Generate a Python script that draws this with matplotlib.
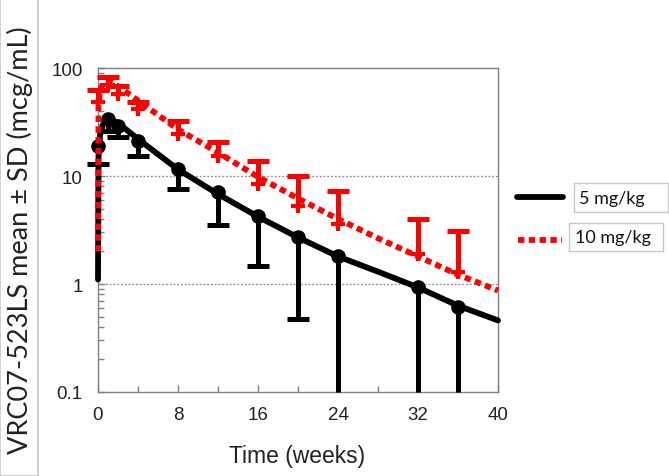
import matplotlib
matplotlib.use("Agg")
import matplotlib.pyplot as plt
from matplotlib.lines import Line2D
from matplotlib.patches import Rectangle
from matplotlib.ticker import FixedLocator, NullFormatter, LogLocator
import numpy as np

# ---- data ----
# observed means (markers) and SD bars
black_t = [0, 1, 2, 4, 8, 12, 16, 20, 24, 32, 36]
black_mean = [19, 34, 29, 21, 11.6, 7.1, 4.3, 2.7, 1.83, 0.93, 0.61]
black_lower = [12.9, 26, 23, 15.4, 7.6, 3.5, 1.48, 0.47, 0.05, 0.05, 0.05]

red_t = [0, 1, 2, 4, 8, 12, 16, 20, 24, 32, 36]
red_mean = [48, 70, 58, 42, 24.5, 15.4, 8.4, 5.3, 3.6, 1.9, 1.28]
red_upper = [62, 82, 68, 48, 32.5, 20.6, 13.9, 10.1, 7.3, 4.0, 3.1]

# model curves
fit_t = [0, 0.05, 0.2, 0.5, 1, 2, 4, 8, 12, 16, 20, 24, 28, 32, 36, 40]
fit_black = [1.1, 15, 24, 30, 34, 31, 22, 11.5, 6.8, 4.2, 2.7, 1.8, 1.3, 0.93, 0.63, 0.46]
fit_red = [2.0, 45, 62, 72, 76, 68, 50, 27, 16.5, 9.8, 6.2, 4.0, 2.65, 1.8, 1.22, 0.87]

x_ticks = [0, 8, 16, 24, 32, 40]
y_ticks = [0.1, 1, 10, 100]
y_ticklabels = ["0.1", "1", "10", "100"]
legend_labels = ["5 mg/kg", "10 mg/kg"]

W, H = 669, 477
def fx(px):
    return px / W
def fy(py):
    return 1 - py / H

# ---- figure ----
fig = plt.figure(figsize=(6.69, 4.77), dpi=100)
ax = fig.add_axes([fx(98), 84 / H, 400 / W, 324 / H])

ax.set_yscale("log")
ax.set_xlim(0, 40)
ax.set_ylim(0.1, 100)
ymin = 0.1

for y in [1, 10]:
    ax.axhline(y, color="#8c8c8c", lw=0.9, ls=(0, (1.5, 1.5)), zorder=0)

red = "#ff0000"
capw = 16
elw = 3.6

# black series
bl = np.array(black_lower)
bt = np.array(black_t)
ax.plot(fit_t, fit_black, color="black", lw=4.2, solid_capstyle="round",
        zorder=3, clip_on=False)
ax.vlines(bt, np.maximum(bl, ymin), black_mean, color="black", lw=elw,
          zorder=4, clip_on=False)
vis = bl >= ymin
ax.plot(bt[vis], bl[vis], ls="none", marker="_", ms=capw, mew=elw,
        color="black", zorder=4, clip_on=False)
ax.plot(black_t, black_mean, ls="none", marker="o", ms=9.5, color="black",
        zorder=4, clip_on=False)

# red series
ax.plot(fit_t, fit_red, color=red, lw=4.2, dashes=(1.1, 0.75), zorder=5,
        clip_on=False)
ax.vlines(red_t, red_mean, red_upper, color=red, lw=elw, zorder=6, clip_on=False)
ax.plot(red_t, red_upper, ls="none", marker="_", ms=capw, mew=elw,
        color=red, zorder=6, clip_on=False)
ax.plot(red_t, red_mean, ls="none", marker="+", ms=10, mew=3, color=red,
        zorder=6, clip_on=False)

# ticks
ax.set_xticks(x_ticks)
ax.set_xticks([4, 12, 20, 28, 36], minor=True)
ax.yaxis.set_major_locator(FixedLocator(y_ticks))
ax.set_yticklabels(y_ticklabels)
ax.yaxis.set_minor_locator(LogLocator(base=10, subs=np.arange(2, 10)))
ax.yaxis.set_minor_formatter(NullFormatter())
ax.tick_params(axis="both", which="both", direction="in", color="#808080",
               labelsize=13.5, labelcolor="#222222")
ax.tick_params(which="major", length=5, width=1)
ax.tick_params(which="minor", length=4, width=1)
ax.tick_params(axis="x", pad=10)
ax.tick_params(axis="y", pad=11)
for lab in ax.get_xticklabels() + ax.get_yticklabels():
    lab.set_family("Liberation Sans")
for s in ax.spines.values():
    s.set_color("#808080")
    s.set_linewidth(1)

fig.text(fx(297), fy(457), "Time (weeks)", ha="center", va="center",
         fontsize=16.5, family="Liberation Sans", color="#222222")

# y label in a box
fig.add_artist(Rectangle((0, 0), fx(38), 1, transform=fig.transFigure,
                         fc="white", ec="#c8c8c8", lw=1.2))
fig.text(fx(20), fy(240), "VRC07-523LS mean \u00b1 SD (mcg/mL)", rotation=90,
         ha="center", va="center", fontsize=19.5, family="Lato", color="#222222")

# legend drawn by hand
fig.add_artist(Line2D([fx(517), fx(563)], [fy(198), fy(198)], color="black",
                      lw=4.2, solid_capstyle="round"))
fig.add_artist(Line2D([fx(518), fx(562)], [fy(241), fy(241)], color=red,
                      lw=4.2, dashes=(1.1, 0.75)))
fig.add_artist(Rectangle((fx(574), fy(213)), fx(668) - fx(574), (213 - 184) / H,
                         transform=fig.transFigure, fc="white", ec="#c8c8c8", lw=1))
fig.add_artist(Rectangle((fx(569), fy(252)), fx(663) - fx(569), (252 - 224) / H,
                         transform=fig.transFigure, fc="white", ec="#c8c8c8", lw=1))
fig.text(fx(579), fy(199), legend_labels[0], ha="left", va="center",
         fontsize=13, family="Lato", color="#111111")
fig.text(fx(575), fy(238), legend_labels[1], ha="left", va="center",
         fontsize=13, family="Lato", color="#111111")

fig.savefig("out.png", dpi=100)
